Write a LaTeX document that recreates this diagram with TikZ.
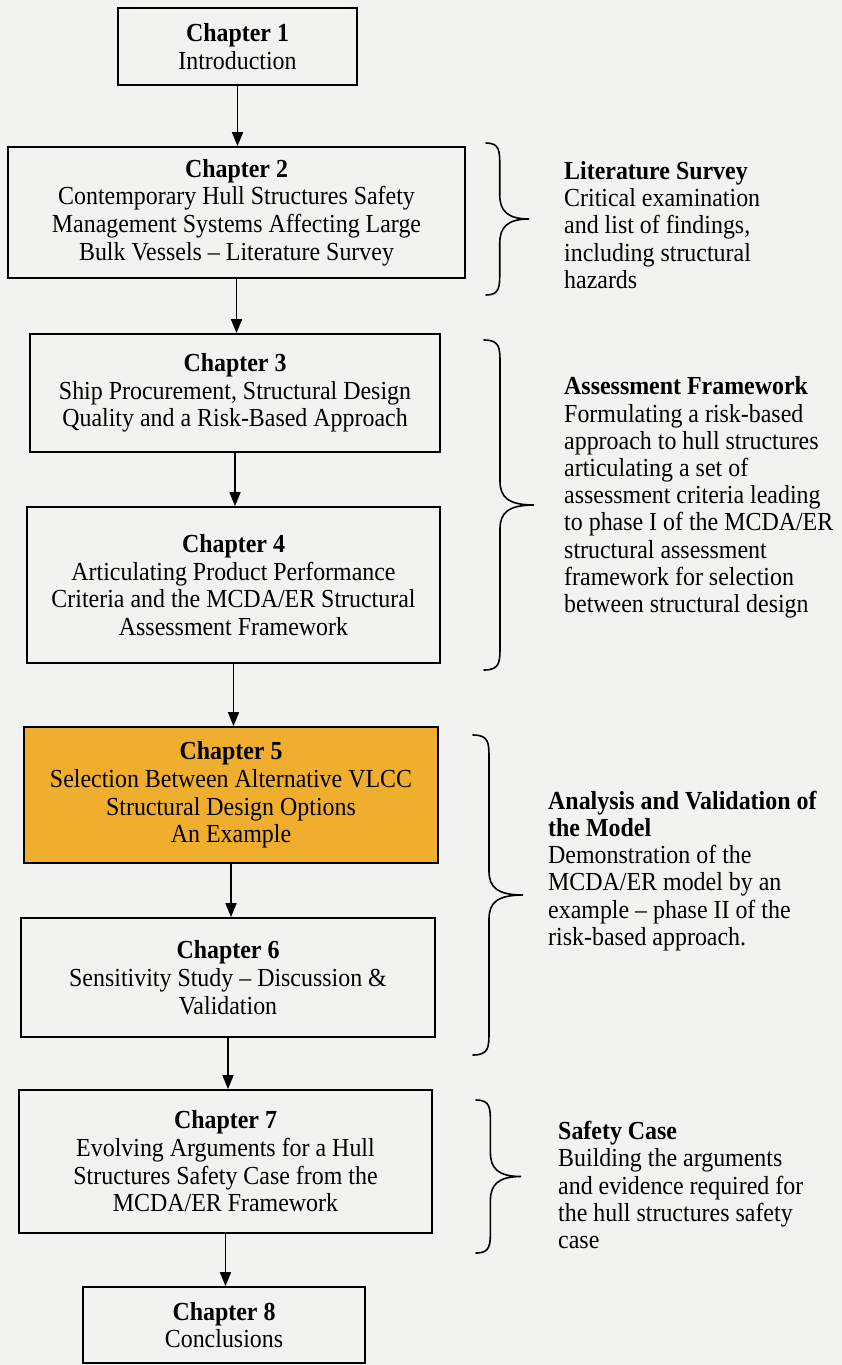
\documentclass[tikz,border=0pt]{standalone}
\usepackage{fontspec}
\setmainfont{Liberation Serif}[FakeStretch=0.92]
\usetikzlibrary{arrows.meta}
\definecolor{paper}{HTML}{F2F2F0}
\definecolor{highlight}{HTML}{F0AE2E}
\tikzset{
  chapbox/.style={draw=black, line width=1.8pt, fill=paper, align=center,
    inner sep=0pt, font=\fontsize{26}{27.7}\selectfont},
  hotbox/.style={chapbox, fill=highlight},
  link/.style={draw=black, line width=1.7pt, -{Triangle[length=14pt,width=11pt]}},
  sidenote/.style={align=left, anchor=west, inner sep=0pt,
    font=\fontsize{26}{27.2}\selectfont},
  bracket/.style={draw=black, line width=1.6pt, line cap=round}
}
% curly bracket opening to the left: left x, top y, bottom y, total width
\newcommand\partbrace[4]{%
  \pgfmathsetmacro\bs{#1+0.32*#4}%
  \pgfmathsetmacro\bm{(#2+#3)/2}%
  \pgfmathsetmacro\bt{#1+#4}%
  \draw[bracket] (#1,#2)
    .. controls (\bs,#2) and (\bs,#2+8) .. (\bs,#2+24)
    -- (\bs,\bm-24)
    .. controls (\bs,\bm-8) and (\bs+8,\bm) .. (\bt,\bm)
    .. controls (\bs+8,\bm) and (\bs,\bm+8) .. (\bs,\bm+24)
    -- (\bs,#3-24)
    .. controls (\bs,#3-8) and (\bs,#3) .. (#1,#3);%
}
\begin{document}
\begin{tikzpicture}[x=1pt,y=-1pt]
  \fill[paper] (0,0) rectangle (842,1365);
  \useasboundingbox (0,0) rectangle (842,1365);

  % chapter boxes
  \node[chapbox, minimum width=239pt, minimum height=77pt] (c1) at (237.5,46.5)
    {\textbf{Chapter 1}\\Introduction};
  \node[chapbox, minimum width=457pt, minimum height=131pt] (c2) at (236.5,212.5)
    {\textbf{Chapter 2}\\Contemporary Hull Structures Safety\\Management Systems Affecting Large\\Bulk Vessels -- Literature Survey};
  \node[chapbox, minimum width=410pt, minimum height=118pt] (c3) at (235,393)
    {\textbf{Chapter 3}\\Ship Procurement, Structural Design\\Quality and a Risk-Based Approach};
  \node[chapbox, minimum width=413pt, minimum height=156pt] (c4) at (233.5,585)
    {\textbf{Chapter 4}\\Articulating Product Performance\\Criteria and the MCDA/ER Structural\\Assessment Framework};
  \node[hotbox, minimum width=414pt, minimum height=136pt] (c5) at (231,795)
    {\textbf{Chapter 5}\\Selection Between Alternative VLCC\\Structural Design Options\\An Example};
  \node[chapbox, minimum width=414pt, minimum height=119pt] (c6) at (228,977.5)
    {\textbf{Chapter 6}\\Sensitivity Study -- Discussion \&\\Validation};
  \node[chapbox, minimum width=413pt, minimum height=143pt] (c7) at (225.5,1161.5)
    {\textbf{Chapter 7}\\Evolving Arguments for a Hull\\Structures Safety Case from the\\MCDA/ER Framework};
  \node[chapbox, minimum width=282pt, minimum height=76pt] (c8) at (224,1325)
    {\textbf{Chapter 8}\\Conclusions};

  % flow between chapters
  \draw[link] (c1.south) -- (c1.south |- c2.north);
  \draw[link] (c2.south) -- (c2.south |- c3.north);
  \draw[link] (c3.south) -- (c3.south |- c4.north);
  \draw[link] (c4.south) -- (c4.south |- c5.north);
  \draw[link] (c5.south) -- (c5.south |- c6.north);
  \draw[link] (c6.south) -- (c6.south |- c7.north);
  \draw[link] (c7.south) -- (c7.south |- c8.north);

  % grouping braces
  \partbrace{486}{143}{295}{43}
  \partbrace{484}{340}{670}{50}
  \partbrace{473}{735}{1055}{50}
  \partbrace{476}{1100}{1253}{45}

  % part descriptions
  \node[sidenote] (n1) at (564,225)
    {\textbf{Literature Survey}\\Critical examination\\and list of findings,\\including structural\\hazards};
  \node[sidenote] (n2) at (564,497.5)
    {\textbf{Assessment Framework}\\Formulating a risk-based\\approach to hull structures\\articulating a set of\\assessment criteria leading\\to phase I of the MCDA/ER\\structural assessment\\framework for selection\\between structural design};
  \node[sidenote] (n3) at (548,871)
    {\textbf{Analysis and Validation of}\\\textbf{the Model}\\Demonstration of the\\MCDA/ER model by an\\example -- phase II of the\\risk-based approach.};
  \node[sidenote] (n4) at (558,1185)
    {\textbf{Safety Case}\\Building the arguments\\and evidence required for\\the hull structures safety\\case};
\end{tikzpicture}
\end{document}
